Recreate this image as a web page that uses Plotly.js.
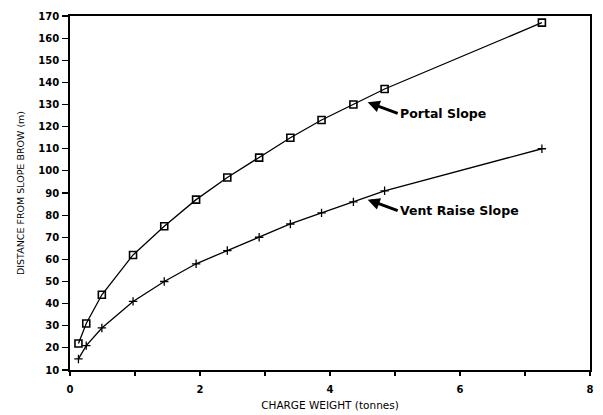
<!DOCTYPE html>
<html><head><meta charset="utf-8">
<script src="https://cdn.plot.ly/plotly-3.0.1.min.js"></script>
<style>html,body{margin:0;padding:0;background:#fff}#c{width:603px;height:415px}</style>
</head><body><div id="c"></div>
<script>
const chargeWeight = [0.13, 0.25, 0.49, 0.97, 1.45, 1.94, 2.42, 2.91, 3.39, 3.87, 4.36, 4.84, 7.26];
const portalSlope = [22, 31, 44, 62, 75, 87, 97, 106, 115, 123, 130, 137, 167];
const ventRaiseSlope = [15, 21, 29, 41, 50, 58, 64, 70, 76, 81, 86, 91, 110];
const xTickVals = [0, 1, 2, 3, 4, 5, 6, 7, 8];
const xTickText = ['0', '', '2', '', '4', '', '6', '', '8'];
const seriesNames = ['Portal Slope', 'Vent Raise Slope'];

const traces = [
  {x: chargeWeight, y: portalSlope, name: seriesNames[0], mode: 'lines+markers', type: 'scatter',
   line: {color: '#000', width: 1.3},
   marker: {symbol: 'square-open', size: 7, color: '#000', line: {width: 1.6, color: '#000'}}},
  {x: chargeWeight, y: ventRaiseSlope, name: seriesNames[1], mode: 'lines+markers', type: 'scatter',
   line: {color: '#000', width: 1.3},
   marker: {symbol: 'cross-thin-open', size: 6, color: '#000', line: {width: 1.3, color: '#000'}}}
];

const tickFont = {family: 'DejaVu Sans, sans-serif', size: 10, color: '#000', weight: 'bold'};
const layout = {
  width: 603, height: 415,
  margin: {l: 70, r: 13, t: 16, b: 45},
  paper_bgcolor: '#fff', plot_bgcolor: '#fff',
  showlegend: false,
  xaxis: {range: [0, 8], tickvals: xTickVals, ticktext: xTickText, ticks: 'outside', ticklen: 4, tickwidth: 1.2,
    tickcolor: '#000', showline: true, linecolor: '#000', linewidth: 1.8, mirror: true, showgrid: false, zeroline: false,
    tickfont: tickFont, ticklabelstandoff: 5,
    title: {text: 'CHARGE WEIGHT (tonnes)', font: {family: 'DejaVu Sans, sans-serif', size: 10.5, color: '#000'}, standoff: 8}},
  yaxis: {range: [10, 170], dtick: 10, ticks: 'outside', ticklen: 6, tickwidth: 1.2, tickcolor: '#000',
    showline: true, linecolor: '#000', linewidth: 1.8, mirror: true, showgrid: false, zeroline: false,
    tickfont: tickFont, ticklabelstandoff: 1,
    title: {text: 'DISTANCE FROM SLOPE BROW (m)', font: {family: 'DejaVu Sans, sans-serif', size: 9.5, color: '#000'}, standoff: 12}},
  annotations: [
    {x: 4.58, y: 131, xref: 'x', yref: 'y', text: '<b>' + seriesNames[0] + '</b>', showarrow: true,
     ax: 30, ay: 11, arrowhead: 2, arrowsize: 0.8, arrowwidth: 3, arrowcolor: '#000', xanchor: 'left', yanchor: 'middle',
     font: {family: 'DejaVu Sans, sans-serif', size: 12.5, color: '#000'}},
    {x: 4.58, y: 87, xref: 'x', yref: 'y', text: '<b>' + seriesNames[1] + '</b>', showarrow: true,
     ax: 30, ay: 11, arrowhead: 2, arrowsize: 0.8, arrowwidth: 3, arrowcolor: '#000', xanchor: 'left', yanchor: 'middle',
     font: {family: 'DejaVu Sans, sans-serif', size: 12.5, color: '#000'}}
  ]
};
Plotly.newPlot('c', traces, layout, {staticPlot: true});
</script></body></html>
